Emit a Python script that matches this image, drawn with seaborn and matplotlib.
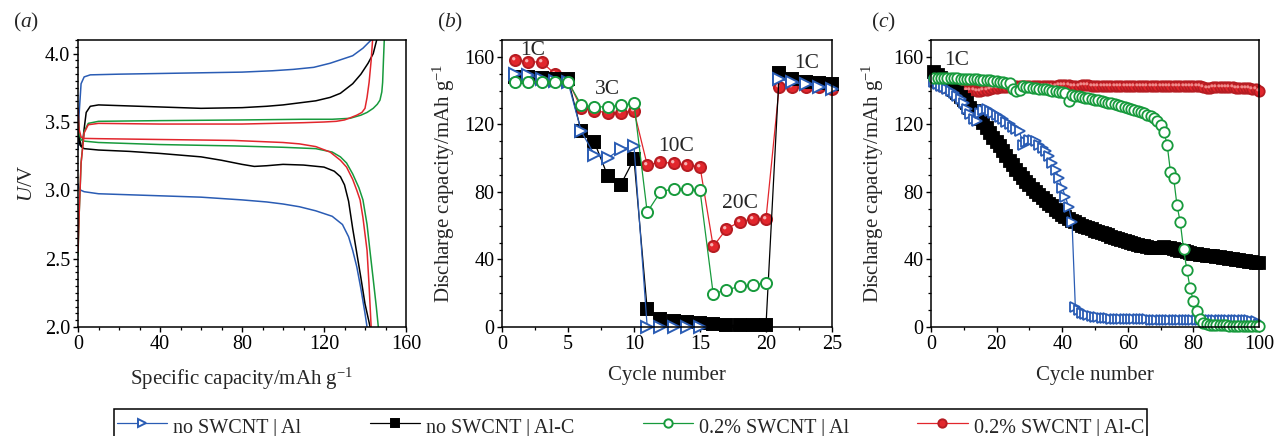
import numpy as np
import matplotlib
matplotlib.use("Agg")
import matplotlib.pyplot as plt
import seaborn as sns
from matplotlib.ticker import MultipleLocator, AutoMinorLocator
from matplotlib.path import Path

# ---------------- data ----------------
LABELS = ["no SWCNT | Al", "no SWCNT | Al-C", "0.2% SWCNT | Al", "0.2% SWCNT | Al-C"]
BLUE, BLACK, GREEN, RED = "#2a5cb4", "#000000", "#179a3c", "#e2262c"

# (a) charge / discharge profiles
blue_chg_x = [0, 0.5, 1.5, 3, 6, 20, 40, 60, 80, 95, 105, 115, 123, 128, 134, 139, 143]
blue_chg_y = [3.30, 3.55, 3.78, 3.83, 3.845, 3.85, 3.855, 3.86, 3.865, 3.875, 3.885, 3.90, 3.93, 3.955, 3.985, 4.04, 4.10]
blue_dis_x = [0, 0.5, 1.5, 3, 10, 30, 60, 80, 92, 100, 108, 116, 124, 129, 132, 134, 136, 138, 140, 141]
blue_dis_y = [3.05, 3.01, 3.0, 2.99, 2.975, 2.965, 2.95, 2.93, 2.915, 2.90, 2.88, 2.85, 2.81, 2.75, 2.66, 2.56, 2.44, 2.28, 2.10, 2.0]

black_chg_x = [0, 1, 2, 3, 4, 6, 10, 20, 40, 60, 80, 92, 100, 108, 116, 123, 128, 134, 138, 141.5, 144, 145.7]
black_chg_y = [3.40, 3.33, 3.32, 3.45, 3.57, 3.615, 3.625, 3.62, 3.61, 3.60, 3.605, 3.615, 3.625, 3.64, 3.655, 3.68, 3.71, 3.78, 3.85, 3.93, 4.0, 4.10]
black_dis_x = [0, 0.5, 1.5, 3, 10, 25, 40, 60, 70, 80, 86, 92, 100, 110, 120, 125, 128, 130, 132, 134, 136, 138, 140, 142.5]
black_dis_y = [3.55, 3.40, 3.32, 3.305, 3.295, 3.285, 3.27, 3.245, 3.22, 3.19, 3.175, 3.18, 3.19, 3.185, 3.17, 3.14, 3.10, 3.04, 2.92, 2.72, 2.54, 2.36, 2.17, 2.0]

red_chg_x = [0, 0.5, 1.5, 3, 5, 10, 40, 80, 110, 120, 126, 130, 132.7, 136, 138.5, 140, 141, 142, 143, 143.7]
red_chg_y = [2.55, 2.8, 3.2, 3.42, 3.48, 3.49, 3.485, 3.485, 3.495, 3.50, 3.505, 3.515, 3.53, 3.55, 3.57, 3.60, 3.68, 3.79, 3.95, 4.10]
red_dis_x = [0, 0.5, 1.5, 3, 10, 40, 76, 100, 108, 116, 123, 128, 131, 134, 136, 137.6, 139, 140, 141, 142, 143]
red_dis_y = [3.60, 3.45, 3.39, 3.38, 3.378, 3.372, 3.365, 3.35, 3.34, 3.32, 3.28, 3.22, 3.17, 3.08, 3.0, 2.93, 2.80, 2.68, 2.56, 2.30, 2.0]

green_chg_x = [0, 0.5, 1.5, 3, 5, 10, 40, 80, 110, 124, 132.7, 138, 141, 144, 146, 147.3, 148.2, 148.6, 149, 149.4]
green_chg_y = [2.52, 2.8, 3.2, 3.43, 3.49, 3.505, 3.51, 3.515, 3.52, 3.52, 3.527, 3.55, 3.57, 3.60, 3.63, 3.66, 3.72, 3.79, 3.95, 4.10]
green_dis_x = [0, 0.5, 1.5, 3, 10, 40, 76, 100, 116, 124, 128, 131, 134, 137, 139, 141, 142.4, 144, 145.5, 146.5]
green_dis_y = [3.60, 3.42, 3.37, 3.36, 3.35, 3.335, 3.325, 3.315, 3.305, 3.28, 3.245, 3.20, 3.12, 3.02, 2.93, 2.75, 2.56, 2.35, 2.15, 2.0]

# (b) rate capability
cycles_b = np.arange(1, 26)
nan = np.nan
blue_b = [150, 149, 147, 146, 145, 116, 102, 100, 105.4, 107, 0, 0, 0, 0, 0,
          nan, nan, nan, nan, nan, 147, 145, 143.7, 142.3, 141]
black_b = [148, 148, 147.6, 147, 147, 116, 109.5, 89.7, 84.4, 99.5, 10.4, 5, 3.3, 3, 2.6,
           2, 1, 1, 1, 1, 150.6, 147, 145.3, 144.7, 144]
green_b = [145.3, 145.3, 145.3, 145.3, 145.3, 131.5, 130.3, 130.5, 131.3, 132.5, 68, 80, 82, 81.5, 81,
           19.6, 22, 24, 25, 26, nan, nan, nan, nan, nan]
red_b = [158.4, 157, 157, 150, 146, 129.6, 128, 127, 127, 128, 96, 97.6, 97, 96, 95,
         47.7, 58, 62.4, 64, 64.2, 142.3, 142, 142, 142, 141]
rate_text = ["1C", "3C", "10C", "20C", "1C"]
rate_x = [2.3, 7.95, 13.2, 18.0, 23.1]
rate_y = [164, 140.7, 107, 73, 155.8]

# (c) cycling at 1C
cycles_c = np.arange(1, 101)
blue_c = [145, 144, 143, 142, 141, 140, 138.5, 137, 135, 132.5,
          129, 126, 123, 122, 127, 128.5, 129, 128, 127, 125.5,
          124.5, 123, 121.5, 120, 118.5, 117, 116, 108, 109.5, 111,
          110.5, 110, 108, 106, 104, 101, 97, 93, 88, 82.5,
          77, 71, 62, 12, 10, 8.5, 7.5, 7, 6.5, 6,
          5.8, 5.6, 5.4, 5.2, 5.0, 5.0, 4.9, 4.8, 4.8, 4.7,
          4.7, 4.6, 4.6, 4.5, 4.5, 4.5, 4.4, 4.4, 4.4, 4.3,
          4.3, 4.3, 4.3, 4.2, 4.2, 4.2, 4.2, 4.1, 4.1, 4.1,
          4.1, 4.0, 4.0, 4.0, 4.0, 4.0, 4.0, 4.0, 4.0, 4.0,
          4.0, 4.0, 4.0, 4.0, 3.9, 3.9, 3.9, 3.8, 3.8, 2.0]
black_c = [151, 149.5, 147.5, 146, 144, 142.5, 140.5, 138.5, 136.5, 134.5,
           132.5, 130, 128, 125.5, 123, 121, 118, 115, 112, 109.5,
           107, 104, 101, 98.5, 96, 93, 90.5, 88.5, 86, 84,
           82, 80, 78, 76.5, 74.7, 73, 71.5, 69.5, 68, 66.5,
           65, 64, 63, 62, 61, 60, 59.5, 58.5, 57.8, 57,
           56.2, 55.5, 54.8, 54.2, 53.5, 52.8, 52.2, 51.5, 50.8, 50.2,
           49.7, 49.2, 48.7, 48.2, 47.7, 47.2, 46.8, 46.5, 46.8, 47,
           47.1, 47, 46.6, 46.2, 45.8, 45.3, 44.8, 44.3, 43.9, 43.5,
           43.2, 42.9, 42.6, 42.3, 42, 41.8, 41.6, 41.4, 41.1, 40.8,
           40.5, 40.2, 39.9, 39.6, 39.3, 39, 38.7, 38.5, 38.2, 38]
green_c = [147.5, 147.5, 147.4, 147.4, 147.3, 147.3, 147.2, 147.2, 147.1, 147.0,
           147.0, 146.9, 146.8, 146.7, 146.6, 146.5, 146.3, 146.1, 145.9, 145.7,
           145.4, 145.1, 144.8, 144.4, 141.0, 139.5, 140.5, 142.5, 142.3, 142.0,
           141.8, 141.5, 141.2, 141.0, 140.7, 140.4, 140.0, 139.7, 139.4, 139.0,
           138.6, 134.0, 137.5, 137.0, 136.6, 136.2, 135.8, 135.4, 135.0, 134.6,
           134.2, 133.8, 133.3, 132.9, 132.5, 132.0, 131.5, 131.0, 130.5, 130.0,
           129.4, 128.8, 128.1, 127.4, 126.6, 125.8, 124.9, 123.8, 122.0, 119.5,
           115.5, 108.0, 92.0, 88.0, 72.0, 62.0, 46.0, 34.0, 23.0, 15.5,
           9.5, 5.0, 2.5, 1.5, 1.1, 1.0, 1.0, 0.9, 0.9, 0.9,
           0.8, 0.8, 0.8, 0.8, 0.8, 0.8, 0.8, 0.8, 0.8, 0.8]
red_c = [145.0, 144.0, 143.0, 142.0, 141.5, 141.0, 140.8, 140.5, 140.4, 140.3,
         140.2, 140.2, 140.1, 140.0, 140.0, 140.2, 140.6, 141.0, 141.4, 141.7,
         142.0, 142.2, 142.3, 142.4, 142.5, 142.5, 142.6, 142.6, 142.7, 142.7,
         142.8, 142.8, 142.9, 142.9, 143.0, 143.0, 143.0, 143.0, 143.1, 143.1,
         143.1, 143.1, 143.0, 143.0, 143.0, 143.1, 143.1, 143.1, 143.0, 143.0,
         143.0, 143.0, 143.0, 143.0, 142.8, 142.7, 142.8, 143.0, 143.0, 143.0,
         143.0, 143.0, 143.0, 143.0, 142.9, 142.9, 142.8, 142.6, 142.5, 142.7,
         143.0, 143.0, 143.0, 143.0, 143.0, 143.0, 143.0, 143.0, 143.0, 143.0,
         143.0, 142.8, 142.3, 141.8, 141.8, 142.0, 142.2, 142.2, 142.2, 142.2,
         142.0, 142.0, 141.8, 141.8, 141.6, 141.5, 141.4, 141.2, 141.0, 140.0]

# ---------------- style ----------------
sns.set_style("ticks")
plt.rcParams["font.family"] = ["Liberation Serif", "DejaVu Serif"]
plt.rcParams["mathtext.fontset"] = "custom"
plt.rcParams["mathtext.rm"] = "Liberation Serif"
plt.rcParams["mathtext.it"] = "Liberation Serif:italic"
plt.rcParams["axes.linewidth"] = 1.1
plt.rcParams["axes.edgecolor"] = "black"
for ax_ in ("xtick", "ytick"):
    plt.rcParams[f"{ax_}.direction"] = "out"
    plt.rcParams[f"{ax_}.major.size"] = 3.5
    plt.rcParams[f"{ax_}.minor.size"] = 2.2
    plt.rcParams[f"{ax_}.major.width"] = 1.0
    plt.rcParams[f"{ax_}.minor.width"] = 0.9
    plt.rcParams[f"{ax_}.color"] = "black"
    plt.rcParams[f"{ax_}.labelsize"] = 14.5

# highlight spot for the "glossy" red spheres (offset circle, fixed scale box)
_circ = Path.circle(center=(-0.32, 0.32), radius=0.3)
_box = np.array([[-1, -1], [1, 1]])
HIGHLIGHT = Path(np.vstack([_box, _circ.vertices]),
                 np.concatenate([[Path.MOVETO, Path.MOVETO], _circ.codes]))

fig = plt.figure(figsize=(12.74, 4.36), dpi=100)
W, H = 1274, 436
def add_axes(left, right, top=40, bottom=327):
    return fig.add_axes([left / W, 1 - bottom / H, (right - left) / W, (bottom - top) / H])

ax_a = add_axes(78, 406)
ax_b = add_axes(502, 832)
ax_c = add_axes(931, 1259)

# ---------------- (a) ----------------
for (cx, cy, dx, dy, col) in [
    (blue_chg_x, blue_chg_y, blue_dis_x, blue_dis_y, BLUE),
    (black_chg_x, black_chg_y, black_dis_x, black_dis_y, BLACK),
    (green_chg_x, green_chg_y, green_dis_x, green_dis_y, GREEN),
    (red_chg_x, red_chg_y, red_dis_x, red_dis_y, RED),
]:
    sns.lineplot(x=cx, y=cy, ax=ax_a, color=col, linewidth=1.1, sort=False, estimator=None)
    sns.lineplot(x=dx, y=dy, ax=ax_a, color=col, linewidth=1.1, sort=False, estimator=None)
ax_a.set_xlim(0, 160)
ax_a.set_ylim(2.0, 4.1)
ax_a.xaxis.set_major_locator(MultipleLocator(40))
ax_a.xaxis.set_minor_locator(MultipleLocator(10))
ax_a.yaxis.set_major_locator(MultipleLocator(0.5))
ax_a.yaxis.set_minor_locator(MultipleLocator(0.05))
ax_a.yaxis.set_major_formatter(matplotlib.ticker.FormatStrFormatter("%.1f"))
ax_a.set_xlabel("Specific capacity/mAh g$^{-1}$", fontsize=15, labelpad=9)
ax_a.set_ylabel("$U$/V", fontsize=15, labelpad=6)

# ---------------- (b) & (c) ----------------
series = [  # drawing order: red, black, blue, green
    (red_b, red_c, RED, "o", RED, "#b51c22", LABELS[3]),
    (black_b, black_c, BLACK, "s", BLACK, BLACK, LABELS[1]),
    (blue_b, blue_c, BLUE, ">", "white", BLUE, LABELS[0]),
    (green_b, green_c, GREEN, "o", "white", GREEN, LABELS[2]),
]
handles = {}
for vb, vc, col, mk, mfc, mec, lab in series:
    vb = np.asarray(vb, dtype=float)
    idx = np.flatnonzero(~np.isnan(vb))
    blocks = np.split(idx, np.flatnonzero(np.diff(idx) > 1) + 1)
    for blk in blocks:
        sns.lineplot(x=cycles_b[blk], y=vb[blk], ax=ax_b, color=col, linewidth=0.9,
                     marker=mk, markersize=8, markerfacecolor=mfc, markeredgecolor=mec,
                     markeredgewidth=1.4, sort=False, estimator=None, clip_on=False)
        if col == RED:
            sns.lineplot(x=cycles_b[blk], y=vb[blk], ax=ax_b, color="none", linewidth=0,
                         marker=HIGHLIGHT, markersize=8, markerfacecolor="#f7b3b3",
                         markeredgewidth=0, sort=False, estimator=None, clip_on=False)
    handles[lab] = ax_b.lines[-1] if col != RED else ax_b.lines[-2]
    ms_c = 8 if mk == "s" else 7.5
    sns.lineplot(x=cycles_c, y=vc, ax=ax_c, color=col, linewidth=0.9,
                 marker=mk, markersize=ms_c, markerfacecolor=mfc, markeredgecolor=mec,
                 markeredgewidth=1.3, sort=False, estimator=None, clip_on=False)
    if col == RED:
        sns.lineplot(x=cycles_c, y=vc, ax=ax_c, color="none", linewidth=0,
                     marker=HIGHLIGHT, markersize=7.5, markerfacecolor="#f08a8a",
                     markeredgewidth=0, sort=False, estimator=None, clip_on=False)

for t, x, y in zip(rate_text, rate_x, rate_y):
    ax_b.text(x, y, t, fontsize=15.5, ha="center", va="center")
ax_c.text(7.9, 157.6, "1C", fontsize=15.5, ha="center", va="center")

ax_b.set_xlim(0, 25)
ax_b.xaxis.set_major_locator(MultipleLocator(5))
ax_b.xaxis.set_minor_locator(AutoMinorLocator(2))
ax_c.set_xlim(0, 100)
ax_c.xaxis.set_major_locator(MultipleLocator(20))
ax_c.xaxis.set_minor_locator(AutoMinorLocator(2))
for ax in (ax_b, ax_c):
    ax.set_ylim(0, 170)
    ax.yaxis.set_major_locator(MultipleLocator(40))
    ax.yaxis.set_minor_locator(MultipleLocator(10))
    ax.set_xlabel("Cycle number", fontsize=15, labelpad=9)
    ax.set_ylabel("Discharge capacity/mAh g$^{-1}$", fontsize=15, labelpad=5)

for ax in (ax_a, ax_b, ax_c):
    for s in ax.spines.values():
        s.set_visible(True)
        s.set_linewidth(1.1)
        s.set_zorder(3)
    ax.tick_params(which="both", top=False, right=False)
    ax.tick_params(axis="both", pad=2)

# panel letters
for x, letter in [(13, "a"), (437, "b"), (871, "c")]:
    fig.text(x / W, 1 - 22 / H, "($" + letter + "$)", fontsize=15.5, ha="left", va="center")

# legend
order = LABELS
leg = fig.legend([handles[l] for l in order], order, loc="upper left",
                 bbox_to_anchor=(114 / W, 1 - 409 / H - 0.001, (1147 - 114) / W, 0.001),
                 mode="expand", ncol=4, fontsize=14.5, frameon=True, fancybox=False,
                 edgecolor="black", framealpha=1, borderpad=0.15, borderaxespad=0,
                 handlelength=2.5, handleheight=1.9, handletextpad=0.3, columnspacing=2.5,
                 numpoints=1, markerscale=0.75)
leg.get_frame().set_linewidth(1.1)

fig.savefig("out.png", dpi=100)
